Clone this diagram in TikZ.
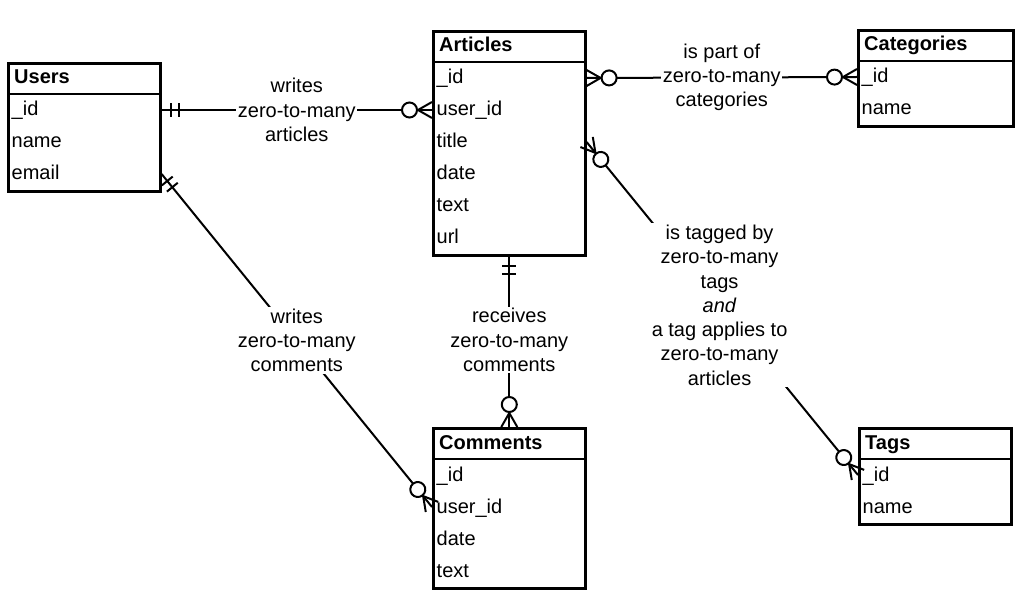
\documentclass[tikz,border=0pt]{standalone}
\usepackage{fontspec}
\setmainfont{Liberation Sans}
\usetikzlibrary{decorations.markings,calc}
\tikzset{
  box/.style={draw, line width=2.6pt, anchor=north west, inner sep=0pt, minimum width=152pt},
  hline/.style={line width=2pt},
  hdr/.style={anchor=base west, font=\fontsize{20}{24}\selectfont\bfseries, inner sep=0pt},
  fld/.style={anchor=west, font=\fontsize{20}{24}\selectfont, inner sep=0pt, text height=17pt, text depth=5pt},
  lbl/.style={fill=white, align=center, font=\fontsize{20}{24.3}\selectfont, inner sep=1.5pt},
  conn/.style={line width=2pt},
  zmE/.style={postaction={decorate, decoration={markings, mark=at position 1 with {%
      \draw[conn] (0,8) -- (-14,0) -- (0,-8);
      \draw[conn, fill=white] (-22.5,0) circle (7.5);}}}},
  zmS/.style={postaction={decorate, decoration={markings, mark=at position 0 with {%
      \draw[conn] (0,8) -- (14,0) -- (0,-8);
      \draw[conn, fill=white] (22.5,0) circle (7.5);}}}},
  oneS/.style={postaction={decorate, decoration={markings, mark=at position 0 with {%
      \draw[conn] (9,7) -- (9,-7);
      \draw[conn] (17,7) -- (17,-7);}}}},
}
\newcommand\entbox[5]{% name, x, y, number of rows incl. header, title
  \node[box, minimum height={32*#4}] (#1) at (#2,#3) {};
  \draw[hline] ($(#1.north west)+(0,32)$) -- ($(#1.north east)+(0,32)$);
  \node[hdr] (#1-title) at ($(#1.north west)+(7,22)$) {#5};
}
\newcommand\fields[2]{% name, list
  \foreach \f [count=\i] in {#2} {
    \node[fld] (#1-\i) at ($(#1.north west)+(4.5,{32*\i+16})$) {\f};
  }
}
\begin{document}
\begin{tikzpicture}[x=1pt,y=-1pt]
\useasboundingbox (0,0) rectangle (1032,609);

\entbox{users}{7}{62}{4}{Users}
\fields{users}{\_id,name,email}

\entbox{articles}{432}{30}{7}{Articles}
\fields{articles}{\_id,user\_id,title,date,text,url}

\node[box, minimum width=155pt, minimum height=96pt] (categories) at (857,29) {};
\draw[hline] ($(categories.north west)+(0,32)$) -- ($(categories.north east)+(0,32)$);
\node[hdr] (categories-title) at ($(categories.north west)+(7,22)$) {Categories};
\fields{categories}{\_id,name}

\entbox{comments}{432}{427}{5}{Comments}
\fields{comments}{\_id,user\_id,date,text}

\entbox{tags}{858}{427}{3}{Tags}
\fields{tags}{\_id,name}

% connectors
\draw[conn, oneS, zmE] (users.east |- users-1) -- (articles.west |- articles-2)
  coordinate[midway] (m1);
\draw[conn, zmS, zmE] (articles.east |- articles-1) -- (categories.west |- categories-1)
  coordinate[midway] (m2);
\draw[conn, oneS, zmE] (users.east |- users-3) -- (comments.west |- comments-2)
  coordinate[midway] (m3);
\draw[conn, oneS, zmE] (articles.south) -- (comments.north)
  coordinate[pos=0.49] (m4);
\draw[conn, zmS, zmE] (articles.east |- articles-3) -- (tags.west |- tags-1)
  coordinate[pos=0.49] (m5);

% labels
\node[lbl] (l1) at (m1) {writes\\zero-to-many\\articles};
\node[lbl] (l2) at (m2) {is part of\\zero-to-many\\categories};
\node[lbl] (l3) at (m3) {writes\\zero-to-many\\comments};
\node[lbl] (l4) at (m4) {receives\\zero-to-many\\comments};
\node[lbl] (l5) at (m5) {is tagged by\\zero-to-many\\tags\\\textit{and}\\a tag applies to\\zero-to-many\\articles};
\end{tikzpicture}
\end{document}
